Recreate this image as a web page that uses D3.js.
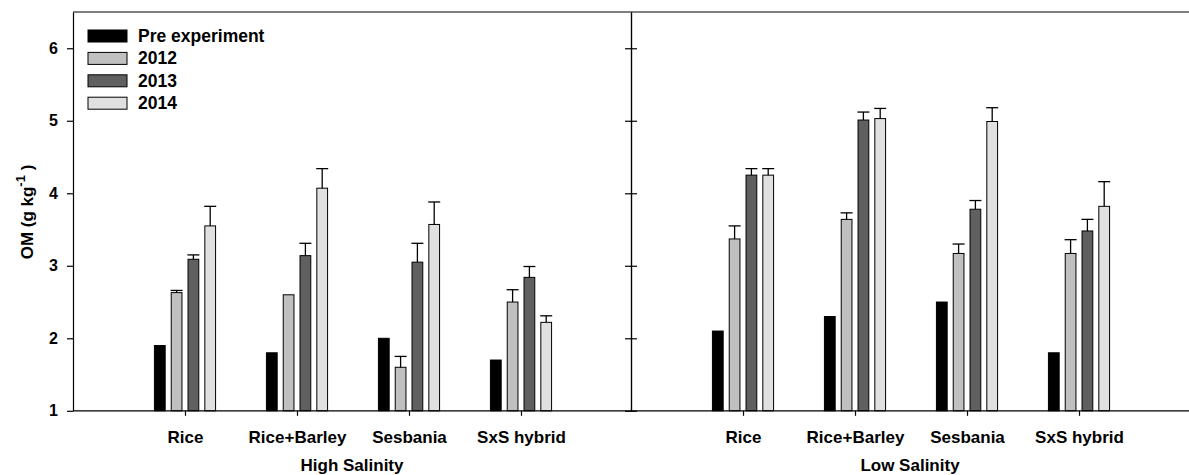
<!DOCTYPE html>
<html><head><meta charset="utf-8">
<script src="https://cdn.jsdelivr.net/npm/d3@7"></script>
<style>
body{margin:0;background:#fff;}
svg text{font-family:"Liberation Sans",Arial,sans-serif;font-weight:bold;fill:#000;}
</style></head>
<body><svg id="c" width="1189" height="475"></svg>
<script>
const categories = ["Rice", "Rice+Barley", "Sesbania", "SxS hybrid"];
const seriesNames = ["Pre experiment", "2012", "2013", "2014"];
const seriesColors = ["#000000", "#c0c0c0", "#606060", "#e0e0e0"];
const panelTitles = ["High Salinity", "Low Salinity"];
const yTicks = [1, 2, 3, 4, 5, 6];

// High salinity
const highPre = [1.9, 1.8, 2.0, 1.7];
const high2012 = [2.63, 2.60, 1.60, 2.50];
const high2012Err = [0.03, 0, 0.15, 0.17];
const high2013 = [3.09, 3.14, 3.05, 2.84];
const high2013Err = [0.06, 0.17, 0.26, 0.15];
const high2014 = [3.55, 4.07, 3.57, 2.22];
const high2014Err = [0.27, 0.27, 0.31, 0.09];

// Low salinity
const lowPre = [2.1, 2.3, 2.5, 1.8];
const low2012 = [3.37, 3.64, 3.17, 3.17];
const low2012Err = [0.18, 0.09, 0.13, 0.19];
const low2013 = [4.25, 5.01, 3.78, 3.48];
const low2013Err = [0.09, 0.11, 0.12, 0.16];
const low2014 = [4.25, 5.03, 4.99, 3.82];
const low2014Err = [0.09, 0.14, 0.19, 0.34];

const panels = [
  {title: panelTitles[0], values: [highPre, high2012, high2013, high2014], errs: [null, high2012Err, high2013Err, high2014Err]},
  {title: panelTitles[1], values: [lowPre, low2012, low2013, low2014], errs: [null, low2012Err, low2013Err, low2014Err]}
];

const svg = d3.select("#c");
const plotTop = 12, plotBottom = 410.8;
const panelW = 558;
const x0s = [73, 631];
const y = d3.scaleLinear().domain([1, 6.5]).range([plotBottom, plotTop]);
const inner = d3.scaleBand().domain(seriesNames).range([-33.6, 33.6]).paddingInner(0.36).paddingOuter(0.18);

panels.forEach((p, pi) => {
  const x0 = x0s[pi];
  const x = d3.scaleLinear().domain([0, 5]).range([x0, x0 + 560]);
  const g = svg.append("g");
  seriesNames.forEach((s, si) => {
    categories.forEach((c, ci) => {
      const v = p.values[si][ci];
      const bx = x(ci + 1) + inner(s);
      const bw = inner.bandwidth();
      g.append("rect").attr("x", bx).attr("y", y(v)).attr("width", bw).attr("height", y(1) - y(v))
        .attr("fill", seriesColors[si]).attr("stroke", "#000").attr("stroke-width", 1);
      const e = p.errs[si] ? p.errs[si][ci] : 0;
      if (e > 0) {
        const cx = bx + bw / 2;
        g.append("line").attr("x1", cx).attr("x2", cx).attr("y1", y(v)).attr("y2", y(v + e)).attr("stroke", "#000").attr("stroke-width", 1.3);
        g.append("line").attr("x1", cx - 6).attr("x2", cx + 6).attr("y1", y(v + e)).attr("y2", y(v + e)).attr("stroke", "#000").attr("stroke-width", 1.3);
      }
    });
  });
  const xa = d3.axisBottom(x).tickValues([1, 2, 3, 4]).tickFormat(d => categories[d - 1]).tickSize(5).tickSizeOuter(0);
  const ax = svg.append("g").attr("transform", `translate(0,${plotBottom})`).call(xa);
  ax.select(".domain").remove();
  ax.selectAll("text").attr("font-size", "17px").attr("dy", null).attr("y", 32);
  svg.append("text").attr("x", x0 + panelW / 2).attr("y", 471).attr("text-anchor", "middle").attr("font-size", "17px").text(p.title);
});

const lineAttr = sel => sel.attr("stroke", "#000").attr("stroke-width", 1.2);
svg.append("line").attr("x1", 73).attr("x2", 1189).attr("y1", plotTop).attr("y2", plotTop).call(lineAttr);
svg.append("line").attr("x1", 73).attr("x2", 1189).attr("y1", plotBottom).attr("y2", plotBottom).call(lineAttr);

const yl = d3.axisLeft(y).tickValues(yTicks).tickSize(6).tickSizeOuter(0).tickFormat(d3.format("d"));
const yaxL = svg.append("g").attr("transform", "translate(73,0)").call(yl);
yaxL.selectAll("text").attr("font-size", "16px").attr("x", -15);
const ymid1 = d3.axisLeft(y).tickValues(yTicks).tickSize(6).tickSizeOuter(0).tickFormat("");
const ymid2 = d3.axisRight(y).tickValues(yTicks).tickSize(6).tickSizeOuter(0).tickFormat("");
svg.append("g").attr("transform", "translate(631,0)").call(ymid1);
svg.append("g").attr("transform", "translate(631,0)").call(ymid2);
svg.selectAll(".domain").attr("stroke", "#000").attr("stroke-width", 1.2);
svg.selectAll(".tick line").attr("stroke", "#000").attr("stroke-width", 1.2);

const yt = svg.append("text").attr("transform", "translate(33,212) rotate(-90)").attr("text-anchor", "middle").attr("font-size", "17px");
yt.append("tspan").text("OM (g kg");
yt.append("tspan").attr("dy", -8).attr("font-size", "13px").text("-1");
yt.append("tspan").attr("dy", 8).text(" )");

const lg = svg.append("g");
seriesNames.forEach((s, i) => {
  const ly = 30 + i * 22.4;
  lg.append("rect").attr("x", 88).attr("y", ly).attr("width", 39).attr("height", 12)
    .attr("fill", seriesColors[i]).attr("stroke", "#000").attr("stroke-width", 1);
  lg.append("text").attr("x", 138).attr("y", ly + 12).attr("font-size", "17.5px").text(s);
});
</script></body></html>
